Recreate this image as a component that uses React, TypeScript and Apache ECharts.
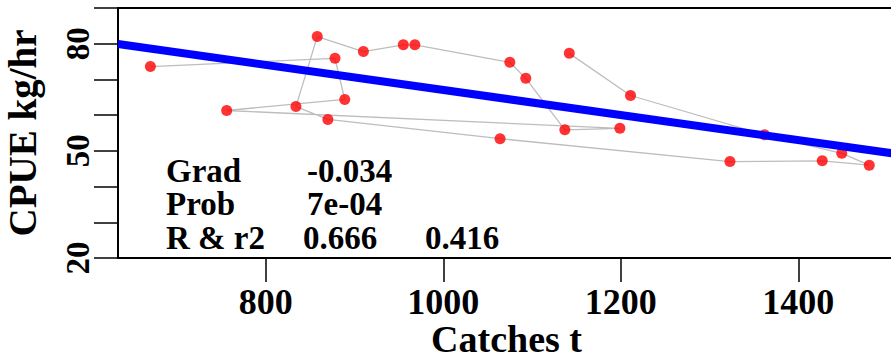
import React, { useEffect, useRef } from "react";
import * as echarts from "echarts";

// Observations in time order (catch t, CPUE kg/hr)
const catches = [1142, 1211, 1362, 1449, 1480, 1427, 1323, 1064, 870, 834, 858, 910, 955, 968, 1075, 1093, 1137, 1199, 756, 889, 878, 670];
const cpue = [77.3, 65.5, 54.5, 49.3, 46.0, 47.2, 47.0, 53.4, 58.8, 62.4, 82.0, 77.8, 79.7, 79.7, 74.8, 70.3, 55.9, 56.3, 61.3, 64.4, 75.9, 73.6];

// Fitted regression line end points
const fitX = [633.5, 1509];
const fitY = [79.9, 49.2];

const xTicks = [800, 1000, 1200, 1400];
const yLabels = [20, 50, 80];

const statNames = ["Grad", "Prob", "R & r2"];
const statValues = ["-0.034", "7e-04", "0.666"];
const statExtra = ["", "", "0.416"];

const FONT = '"Liberation Serif", "Times New Roman", serif';

export default function App() {
  const ref = useRef<HTMLDivElement>(null);
  useEffect(() => {
    if (!ref.current) return;
    const chart = echarts.init(ref.current, null, { renderer: "svg" });
    const pts = catches.map((c, i) => [c, cpue[i]]);
    const fit = fitX.map((x, i) => [x, fitY[i]]);
    const rowTops = [154, 187, 221];
    const f = `bold 33px ${FONT}`;
    const graphic: any[] = [];
    statNames.forEach((n, i) => {
      graphic.push({
        type: "text",
        left: 166,
        top: rowTops[i],
        style: { text: n, font: f, lineHeight: 30, fill: "#000" },
      });
      graphic.push({
        type: "text",
        left: i === 2 ? 303 : 307,
        top: rowTops[i],
        style: { text: statValues[i], font: f, lineHeight: 30, fill: "#000" },
      });
      if (statExtra[i]) {
        graphic.push({
          type: "text",
          left: 425,
          top: rowTops[i],
          style: { text: statExtra[i], font: f, lineHeight: 30, fill: "#000" },
        });
      }
    });
    chart.setOption({
      animation: false,
      backgroundColor: "#fff",
      grid: {
        left: 118,
        top: 8,
        right: -4,
        bottom: 101,
        outerBoundsMode: "none",
        containLabel: false,
        show: true,
        borderColor: "#000",
        borderWidth: 2,
        backgroundColor: "transparent",
      },
      xAxis: {
        type: "value",
        min: 633.5,
        max: 1509,
        name: "Catches t",
        nameLocation: "middle",
        nameGap: 66,
        nameMoveOverlap: false,
        nameTextStyle: { fontFamily: FONT, fontWeight: "bold", fontSize: 38, lineHeight: 30, color: "#000" },
        axisLine: { show: true, lineStyle: { color: "#000", width: 2 } },
        axisTick: { show: true, inside: false, length: 24, customValues: xTicks, lineStyle: { color: "#000", width: 1.5 } },
        axisLabel: {
          customValues: xTicks,
          formatter: (v: number) => String(v),
          margin: 29,
          lineHeight: 30,
          fontFamily: FONT,
          fontWeight: "bold",
          fontSize: 36,
          color: "#000",
        },
        splitLine: { show: false },
      },
      yAxis: {
        type: "value",
        min: 20,
        max: 90,
        interval: 10,
        name: "CPUE kg/hr",
        nameLocation: "middle",
        nameGap: 76,
        nameTextStyle: { fontFamily: FONT, fontWeight: "bold", fontSize: 39, color: "#000" },
        axisLine: { show: true, lineStyle: { color: "#000", width: 2 } },
        axisTick: { show: true, inside: false, length: 24, lineStyle: { color: "#000", width: 1.5 } },
        axisLabel: {
          customValues: yLabels,
          formatter: (v: number) => String(v),
          rotate: 90,
          margin: 24,
          fontFamily: FONT,
          fontWeight: "bold",
          fontSize: 33,
          color: "#000",
        },
        splitLine: { show: false },
      },
      graphic,
      series: [
        {
          type: "line",
          data: pts,
          symbol: "none",
          lineStyle: { color: "#bdbdbd", width: 1.3 },
          z: 2,
        },
        {
          type: "scatter",
          data: pts,
          symbol: "circle",
          symbolSize: 11,
          itemStyle: { color: "#ff0000" },
          z: 3,
        },
        {
          type: "line",
          data: fit,
          symbol: "none",
          lineStyle: { color: "#0000ff", width: 8 },
          z: 4,
        },
      ],
    });
    return () => chart.dispose();
  }, []);
  return (
    <div
      ref={ref}
      style={{ position: "absolute", left: 0, top: 0, width: 891, height: 359, background: "#fff" }}
    />
  );
}
